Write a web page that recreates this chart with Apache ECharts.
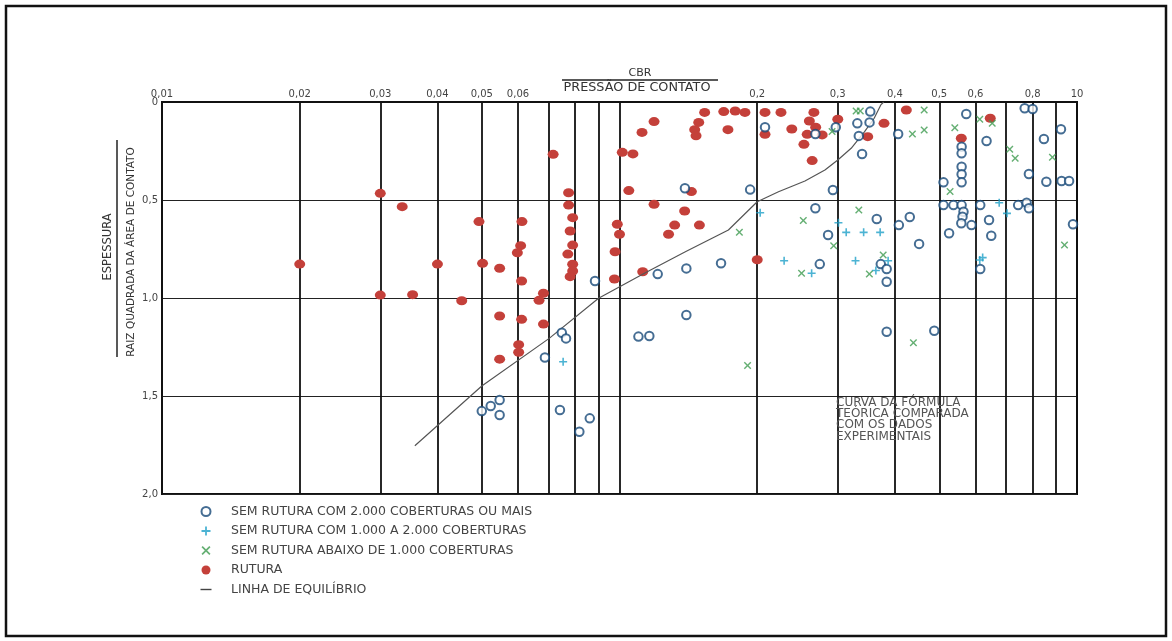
<!DOCTYPE html>
<html>
<head>
<meta charset="utf-8">
<script src="https://cdn.jsdelivr.net/npm/echarts@6/dist/echarts.min.js"></script>
<style>html,body{margin:0;padding:0;background:#fff}#c{width:1172px;height:641px}</style>
</head>
<body>
<div id="c"></div>
<script>
// ---- axes ----
const xGridValues = [0.01,0.02,0.03,0.04,0.05,0.06,0.07,0.08,0.09,0.1,0.2,0.3,0.4,0.5,0.6,0.7,0.8,0.9,1];
const xLabelValues = [0.01,0.02,0.03,0.04,0.05,0.06,0.2,0.3,0.4,0.5,0.6,0.8,1];
const xTickLabels = ['0,01','0,02','0,03','0,04','0,05','0,06','0,2','0,3','0,4','0,5','0,6','0,8','10'];
const yTickLabels = ['0','0,5','1,0','1,5','2,0'];

const seriesNames = [
  'SEM RUTURA COM 2.000 COBERTURAS OU MAIS',
  'SEM RUTURA COM 1.000 A 2.000 COBERTURAS',
  'SEM RUTURA ABAIXO DE 1.000 COBERTURAS',
  'RUTURA',
  'LINHA DE EQUILÍBRIO'
];
const annotationLines = ['CURVA DA FÓRMULA','TEÓRICA COMPARADA','COM OS DADOS','EXPERIMENTAIS'];

// ---- data: [CBR / pressão de contato, espessura / raiz da área] ----
const semRutura2000 = [
  [0.0884,0.913],[0.1212,0.878],[0.140,0.849],[0.1667,0.823],[0.139,0.440],[0.193,0.447],
  [0.140,1.087],[0.0748,1.177],[0.0764,1.206],[0.0687,1.304],[0.110,1.197],[0.1162,1.194],
  [0.0547,1.520],[0.0523,1.551],[0.050,1.577],[0.0547,1.597],[0.0741,1.571],[0.0861,1.614],[0.0817,1.682],
  [0.208,0.129],[0.268,0.163],[0.297,0.129],[0.3533,0.049],[0.331,0.109],[0.352,0.104],[0.3335,0.173],
  [0.339,0.265],[0.4065,0.163],[0.2927,0.449],[0.268,0.542],[0.365,0.597],[0.408,0.628],[0.431,0.587],
  [0.2857,0.679],[0.4517,0.724],[0.274,0.827],[0.3725,0.827],[0.3837,0.852],[0.3837,0.917],
  [0.3837,1.172],[0.4876,1.167],[0.5727,0.061],[0.7685,0.032],[0.800,0.036],[0.6343,0.199],
  [0.8466,0.189],[0.9225,0.139],[0.5595,0.228],[0.5595,0.262],[0.5595,0.330],[0.5595,0.369],
  [0.5595,0.410],[0.5107,0.410],[0.785,0.367],[0.857,0.407],[0.9254,0.403],[0.961,0.403],
  [0.5107,0.526],[0.537,0.526],[0.5595,0.526],[0.6145,0.526],[0.5648,0.560],[0.562,0.585],
  [0.5586,0.619],[0.588,0.628],[0.6423,0.602],[0.5253,0.670],[0.6495,0.682],[0.6145,0.852],
  [0.7436,0.526],[0.776,0.514],[0.785,0.542],[0.980,0.624]
];
const semRutura1000a2000 = [
  [0.0753,1.325],[0.203,0.565],[0.301,0.616],[0.313,0.665],[0.3417,0.665],[0.3713,0.665],
  [0.229,0.810],[0.328,0.810],[0.263,0.874],[0.3865,0.810],[0.3634,0.860],[0.676,0.514],
  [0.703,0.568],[0.622,0.794],[0.613,0.806]
];
const semRuturaAbaixo1000 = [
  [0.1828,0.665],[0.1905,1.345],[0.4389,1.228],[0.329,0.046],[0.336,0.046],[0.2915,0.151],
  [0.4634,0.041],[0.4367,0.163],[0.4634,0.143],[0.3335,0.551],[0.2522,0.605],[0.2939,0.733],
  [0.250,0.874],[0.377,0.781],[0.3517,0.878],[0.5406,0.131],[0.613,0.088],[0.6527,0.109],
  [0.7128,0.241],[0.7326,0.287],[0.8837,0.282],[0.5279,0.457],[0.939,0.730]
];
const rutura = [
  [0.020,0.827],[0.030,0.466],[0.0335,0.534],[0.030,0.985],[0.0353,0.983],[0.040,0.827],
  [0.0452,1.014],[0.0493,0.61],[0.0502,0.823],[0.0547,0.848],[0.0612,0.61],[0.0608,0.733],
  [0.0598,0.769],[0.0611,0.913],[0.0547,1.092],[0.0611,1.109],[0.0682,0.976],[0.0667,1.012],
  [0.0682,1.133],[0.0602,1.238],[0.0602,1.277],[0.0547,1.312],[0.0716,0.267],[0.0774,0.463],
  [0.0774,0.526],[0.079,0.590],[0.078,0.658],[0.079,0.730],[0.0771,0.776],[0.079,0.828],
  [0.079,0.862],[0.078,0.891],[0.1014,0.257],[0.107,0.265],[0.112,0.155],[0.119,0.100],
  [0.1535,0.053],[0.149,0.104],[0.146,0.141],[0.147,0.172],[0.169,0.049],[0.179,0.046],
  [0.188,0.053],[0.1726,0.141],[0.1048,0.452],[0.1436,0.457],[0.119,0.522],[0.1388,0.556],
  [0.132,0.628],[0.1495,0.628],[0.128,0.675],[0.0989,0.624],[0.100,0.675],[0.0978,0.764],
  [0.0975,0.903],[0.1124,0.866],[0.200,0.805],[0.208,0.053],[0.2254,0.053],[0.266,0.053],
  [0.260,0.097],[0.2684,0.129],[0.300,0.088],[0.208,0.165],[0.238,0.138],[0.2572,0.165],
  [0.2773,0.168],[0.253,0.216],[0.2637,0.299],[0.3488,0.177],[0.3786,0.109],[0.4236,0.041],
  [0.6462,0.083],[0.5586,0.185]
];
const linhaEquilibrio = [
  [0.0357,1.754],[0.05,1.449],[0.0702,1.206],[0.09,1.001],[0.1139,0.871],[0.1393,0.764],
  [0.173,0.653],[0.2,0.509],[0.2226,0.458],[0.2543,0.403],[0.2812,0.347],[0.3,0.296],
  [0.3209,0.236],[0.343,0.152],[0.3603,0.083],[0.3725,0.015],[0.378,0]
];

// ---- symbols ----
const plusPath = 'path://M3.6,0H5.4V3.6H9V5.4H5.4V9H3.6V5.4H0V3.6H3.6Z';
const crossPath = 'path://M0,1.2L1.2,0L4.5,3.3L7.8,0L9,1.2L5.7,4.5L9,7.8L7.8,9L4.5,5.7L1.2,9L0,7.8L3.3,4.5Z';
const dashPath = 'path://M0,0M12,9M0.5,3.8H11.5V5.2H0.5Z';

const FONT = 'DejaVu Sans';
const chart = echarts.init(document.getElementById('c'), null, {renderer: 'canvas'});

function xLabel(v) {
  for (let i = 0; i < xLabelValues.length; i++) {
    if (Math.abs(v - xLabelValues[i]) < 1e-9) return xTickLabels[i];
  }
  return '';
}

chart.setOption({
  animation: false,
  backgroundColor: '#fff',
  grid: {left: 162, right: 95, top: 102, bottom: 147, show: true, borderColor: '#111', borderWidth: 2},
  xAxis: {
    type: 'log', logBase: 10, min: 0.01, max: 1, position: 'top',
    axisLine: {show: true, lineStyle: {color: '#111', width: 2}},
    axisTick: {show: false, customValues: xGridValues},
    axisLabel: {customValues: xLabelValues, formatter: xLabel, color: '#444', fontSize: 10, fontFamily: FONT, margin: 3},
    splitLine: {show: true, lineStyle: {color: '#111', width: 1.8}},
    minorTick: {show: false}, minorSplitLine: {show: false}
  },
  yAxis: {
    type: 'value', inverse: true, min: 0, max: 2, interval: 0.5,
    axisLine: {show: true, lineStyle: {color: '#111', width: 2}},
    axisTick: {show: false},
    axisLabel: {formatter: v => yTickLabels[Math.round(v / 0.5)], color: '#444', fontSize: 10, fontFamily: FONT, margin: 4},
    splitLine: {show: true, lineStyle: {color: '#222', width: 1.2}}
  },
  legend: {
    orient: 'vertical', left: 195, top: 500, itemWidth: 40, itemHeight: 9, itemGap: 6.5,
    textStyle: {color: '#444', fontSize: 12.5, fontFamily: FONT, lineHeight: 12.5},
    data: [
      {name: seriesNames[0], icon: 'emptyCircle'},
      {name: seriesNames[1], icon: plusPath},
      {name: seriesNames[2], icon: crossPath},
      {name: seriesNames[3], icon: 'circle'},
      {name: seriesNames[4], icon: dashPath}
    ]
  },
  graphic: [
    {type: 'rect', silent: true, z: -10, shape: {x: 6, y: 6, width: 1160, height: 630},
     style: {fill: 'none', stroke: '#111', lineWidth: 2.5}},
    {type: 'text', x: 640, y: 73, silent: true,
     style: {text: 'CBR', fill: '#333', font: '11px "DejaVu Sans"', textAlign: 'center', align: 'center', textVerticalAlign: 'middle', verticalAlign: 'middle'}},
    {type: 'line', silent: true, shape: {x1: 562, y1: 80, x2: 718, y2: 80}, style: {stroke: '#222', lineWidth: 1.5}},
    {type: 'text', x: 637, y: 88, silent: true,
     style: {text: 'PRESSÃO DE CONTATO', fill: '#333', font: '12.8px "DejaVu Sans"', textAlign: 'center', align: 'center', textVerticalAlign: 'middle', verticalAlign: 'middle'}},
    {type: 'text', x: 108, y: 247, rotation: Math.PI / 2, silent: true,
     style: {text: 'ESPESSURA', fill: '#333', font: '11.5px "DejaVu Sans"', textAlign: 'center', align: 'center', textVerticalAlign: 'middle', verticalAlign: 'middle'}},
    {type: 'line', silent: true, shape: {x1: 117, y1: 140, x2: 117, y2: 357}, style: {stroke: '#222', lineWidth: 1.5}},
    {type: 'text', x: 131, y: 252, rotation: Math.PI / 2, silent: true,
     style: {text: 'RAIZ QUADRADA DA ÁREA DE CONTATO', fill: '#333', font: '10.5px "DejaVu Sans"', textAlign: 'center', align: 'center', textVerticalAlign: 'middle', verticalAlign: 'middle'}},
    {type: 'text', x: 836, y: 397, silent: true, z: 10,
     style: {text: annotationLines.join('\n'), fill: '#555', font: '12px "DejaVu Sans"', lineHeight: 11.3, textAlign: 'left', align: 'left', textVerticalAlign: 'top', verticalAlign: 'top'}}
  ],
  series: [
    {name: seriesNames[3], type: 'scatter', data: rutura, symbol: 'circle', symbolSize: [11, 9],
     itemStyle: {color: '#c4403a', opacity: 1}, z: 3},
    {name: seriesNames[4], type: 'line', data: linhaEquilibrio, showSymbol: false, symbol: 'none',
     lineStyle: {color: '#555', width: 1.2}, itemStyle: {color: '#444'}, z: 4},
    {name: seriesNames[0], type: 'scatter', data: semRutura2000, symbol: 'emptyCircle', symbolSize: 8.5,
     itemStyle: {color: '#174878', borderWidth: 2.3}, z: 5},
    {name: seriesNames[1], type: 'scatter', data: semRutura1000a2000, symbol: plusPath, symbolSize: 8,
     itemStyle: {color: '#1fa0c8'}, z: 6},
    {name: seriesNames[2], type: 'scatter', data: semRuturaAbaixo1000, symbol: crossPath, symbolSize: 7.5,
     itemStyle: {color: '#3f9b50'}, z: 6}
  ]
});
</script>
</body>
</html>
